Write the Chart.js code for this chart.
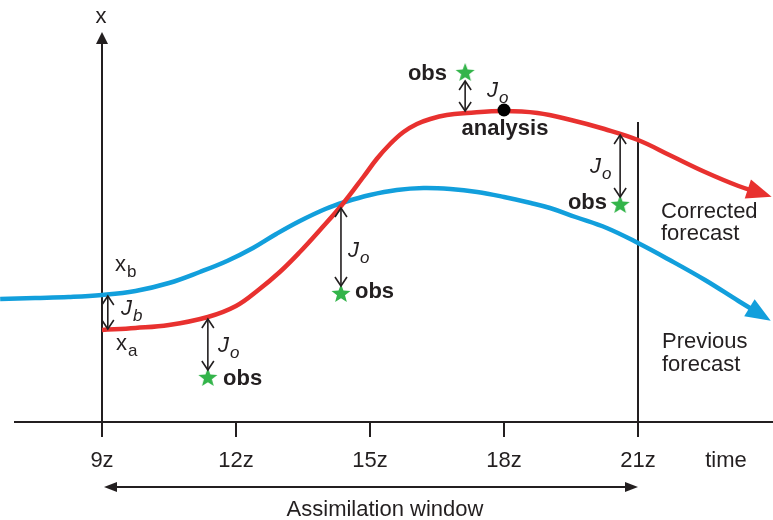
<!DOCTYPE html>
<html>
<head>
<meta charset="utf-8">
<script src="https://cdn.jsdelivr.net/npm/chart.js@4"></script>
<style>
  html, body { margin: 0; padding: 0; background: #fff; }
  #wrap { width: 773px; height: 520px; position: relative; }
</style>
</head>
<body>
<div id="wrap"><canvas id="chart"></canvas></div>
<script>
// time axis (hours, z) and state value (arbitrary units above the time axis)
const tickHours = [9, 12, 15, 18, 21];
const tickLabels = ["9z", "12z", "15z", "18z", "21z"];

// previous forecast (background), blue
const prevTimes  = [6.72, 7.5, 8.25, 9.0, 9.75, 10.5, 11.19, 11.8, 12.38, 12.9, 13.43, 14.0, 14.44, 15.0, 15.6, 16.2, 16.8, 17.4, 18.0, 18.6, 19.03, 19.6, 20.3, 21.0, 21.75, 22.5, 23.25, 23.8];
const prevValues = [123, 124, 125, 127, 131, 139, 150, 161, 174, 188, 201, 213, 220, 227, 232, 234, 233, 230, 225, 219, 214, 205, 194, 179, 161, 142, 121, 106];

// corrected forecast (analysis trajectory), red
const corrTimes  = [9.0, 9.75, 10.5, 11.37, 12.0, 12.5, 12.98, 13.43, 13.9, 14.37, 14.85, 15.15, 15.45, 15.75, 16.05, 16.35, 16.72, 17.17, 18.0, 18.75, 19.5, 20.25, 21.0, 21.75, 22.5, 23.25, 23.8];
const corrValues = [92, 94, 97, 105, 116, 132, 150, 170, 193, 217, 245, 263, 278, 290, 298, 303, 307, 309, 311, 309, 302, 293, 282, 266, 250, 236, 228];

// observations and the model value at the same time (J_o arrows)
const obsTimes   = [11.37, 14.35, 17.13, 20.6];
const obsValues  = [44, 128, 349, 217];
const modelAtObs = [105, 216, 309, 289];

const analysisTime = 18.0;
const analysisValue = 312;

// background term J_b at the start of the window
const jbTime = 9.13;
const xbValue = 127;
const xaValue = 92;

const windowStart = 9;
const windowEnd = 21;

const X_MIN = 6.7164, X_MAX = 24.0224;
const Y_MIN = -98, Y_MAX = 422;

const FONT = '"Liberation Sans", Arial, Helvetica, sans-serif';
const INK = "#231f20";
const RED = "#e8312f";
const BLUE = "#129fdc";
const GREEN = "#33b44a";

// text annotations in data coordinates
const subLabels = [
  { main: "x", sub: "b", h: 9.291, v: 151, italic: false },
  { main: "J", sub: "b", h: 9.425, v: 107, italic: true },
  { main: "x", sub: "a", h: 9.313, v: 72, italic: false },
  { main: "J", sub: "o", h: 11.597, v: 70, italic: true },
  { main: "J", sub: "o", h: 14.507, v: 165, italic: true },
  { main: "J", sub: "o", h: 17.619, v: 325, italic: true },
  { main: "J", sub: "o", h: 19.925, v: 249, italic: true },
];
const boldLabels = [
  { text: "obs", h: 11.709, v: 37, align: "left" },
  { text: "obs", h: 14.664, v: 124, align: "left" },
  { text: "obs", h: 16.724, v: 342, align: "right" },
  { text: "obs", h: 20.306, v: 213, align: "right" },
  { text: "analysis", h: 18.022, v: 287, align: "center" },
];
const plainLabels = [
  { text: "Corrected", h: 21.515, v: 204 },
  { text: "forecast", h: 21.515, v: 182 },
  { text: "Previous", h: 21.537, v: 74 },
  { text: "forecast", h: 21.537, v: 51 },
];

function toXY(times, values) {
  return times.map((t, i) => ({ x: t, y: values[i] }));
}

// filled five-point star used as the obs marker
function makeStar(r, color) {
  const c = document.createElement("canvas");
  c.width = c.height = 2 * r + 2;
  const g = c.getContext("2d");
  g.fillStyle = color;
  g.beginPath();
  for (let i = 0; i < 10; i++) {
    const rad = i % 2 === 0 ? r : r * 0.42;
    const a = -Math.PI / 2 + (i * Math.PI) / 5;
    const px = r + 1 + rad * Math.cos(a), py = r + 1 + rad * Math.sin(a);
    if (i === 0) g.moveTo(px, py); else g.lineTo(px, py);
  }
  g.closePath();
  g.fill();
  return c;
}

function seg(ctx, x1, y1, x2, y2) {
  ctx.beginPath();
  ctx.moveTo(x1, y1);
  ctx.lineTo(x2, y2);
  ctx.stroke();
}

// open chevron head at (x, y); dy = +1 points down, -1 points up
function chevron(ctx, x, y, dy) {
  ctx.beginPath();
  ctx.moveTo(x - 6, y - dy * 9);
  ctx.lineTo(x, y);
  ctx.lineTo(x + 6, y - dy * 9);
  ctx.stroke();
}

function doubleArrow(ctx, x, y1, y2) {
  ctx.save();
  ctx.lineWidth = 1.6;
  ctx.strokeStyle = INK;
  seg(ctx, x, y1, x, y2);
  const d = y2 > y1 ? 1 : -1;
  chevron(ctx, x, y2, d);
  chevron(ctx, x, y1, -d);
  ctx.restore();
}

function filledHead(ctx, tipX, tipY, dx, dy, len, half) {
  const bx = tipX - dx * len, by = tipY - dy * len;
  ctx.beginPath();
  ctx.moveTo(tipX, tipY);
  ctx.lineTo(bx - dy * half, by + dx * half);
  ctx.lineTo(bx + dy * half, by - dx * half);
  ctx.closePath();
  ctx.fill();
}

const diagram = {
  id: "diagram",
  beforeDatasetsDraw(chart) {
    const { ctx, scales: { x, y } } = chart;
    const px = (h) => x.getPixelForValue(h);
    const py = (v) => y.getPixelForValue(v);
    ctx.save();
    ctx.strokeStyle = INK;
    ctx.fillStyle = INK;
    ctx.lineWidth = 2;
    // time axis and tick marks
    seg(ctx, 14, py(0), chart.width, py(0));
    tickHours.forEach((h) => seg(ctx, px(h), py(0), px(h), py(-15)));
    // state axis at the start of the window
    seg(ctx, px(9), py(-15), px(9), py(380));
    filledHead(ctx, px(9), py(390), 0, -1, 12, 6);
    // end of window
    seg(ctx, px(21), py(-15), px(21), py(300));
    ctx.restore();
  },
  afterDatasetsDraw(chart) {
    const { ctx, scales: { x, y } } = chart;
    const px = (h) => x.getPixelForValue(h);
    const py = (v) => y.getPixelForValue(v);
    ctx.save();

    // arrow heads at the end of both forecasts
    [[2, RED], [3, BLUE]].forEach(([idx, col]) => {
      const pts = chart.getDatasetMeta(idx).data;
      const a = pts[pts.length - 2], b = pts[pts.length - 1];
      const len = Math.hypot(b.x - a.x, b.y - a.y);
      const dx = (b.x - a.x) / len, dy = (b.y - a.y) / len;
      ctx.fillStyle = col;
      filledHead(ctx, b.x + dx * 9, b.y + dy * 9, dx, dy, 25, 10);
    });

    // J_o arrows between model and obs
    obsTimes.forEach((t, i) => {
      const xx = px(t);
      const yModel = py(modelAtObs[i]);
      const yObs = py(obsValues[i]);
      const d = yObs > yModel ? 1 : -1;
      doubleArrow(ctx, xx, yModel + d * 2, yObs - d * 8);
    });
    // J_b arrow
    doubleArrow(ctx, px(jbTime), py(xbValue) + 1, py(xaValue) - 1);

    // tick labels and axis names
    ctx.fillStyle = INK;
    ctx.textBaseline = "alphabetic";
    ctx.font = "22px " + FONT;
    ctx.textAlign = "center";
    tickHours.forEach((h, i) => ctx.fillText(tickLabels[i], px(h), py(-45)));
    ctx.fillText("time", px(22.97), py(-45));
    ctx.fillText("x", px(8.98), py(399));

    // assimilation window
    ctx.lineWidth = 2;
    ctx.strokeStyle = INK;
    seg(ctx, px(windowStart) + 6, py(-65), px(windowEnd) - 6, py(-65));
    filledHead(ctx, px(windowStart) + 2, py(-65), -1, 0, 13, 5);
    filledHead(ctx, px(windowEnd), py(-65), 1, 0, 13, 5);
    ctx.fillText("Assimilation window", px(15.336), py(-94));

    // x_b, x_a, J_b, J_o
    ctx.textAlign = "left";
    subLabels.forEach((l) => {
      const style = l.italic ? "italic " : "";
      ctx.font = style + "22px " + FONT;
      const x0 = px(l.h), y0 = py(l.v);
      ctx.fillText(l.main, x0, y0);
      const w = ctx.measureText(l.main).width;
      ctx.font = style + "17px " + FONT;
      ctx.fillText(l.sub, x0 + w + 1, y0 + 6);
    });

    ctx.font = "bold 22px " + FONT;
    boldLabels.forEach((l) => {
      ctx.textAlign = l.align;
      ctx.fillText(l.text, px(l.h), py(l.v));
    });

    ctx.font = "22px " + FONT;
    ctx.textAlign = "left";
    plainLabels.forEach((l) => ctx.fillText(l.text, px(l.h), py(l.v)));

    ctx.restore();
  },
};

const ctx = document.getElementById("chart").getContext("2d");
const starImg = makeStar(10, GREEN);

new Chart(ctx, {
  type: "line",
  data: {
    datasets: [
      {
        label: "obs",
        data: toXY(obsTimes, obsValues),
        showLine: false,
        pointStyle: starImg,
        pointRadius: 10,
      },
      {
        label: "analysis",
        data: [{ x: analysisTime, y: analysisValue }],
        showLine: false,
        pointRadius: 6.5,
        pointBackgroundColor: "#000",
        pointBorderColor: "#000",
        pointBorderWidth: 0,
      },
      {
        label: "Corrected forecast",
        data: toXY(corrTimes, corrValues),
        borderColor: RED,
        borderWidth: 4.5,
        pointRadius: 0,
        tension: 0.4,
        fill: false,
      },
      {
        label: "Previous forecast",
        data: toXY(prevTimes, prevValues),
        borderColor: BLUE,
        borderWidth: 4.5,
        pointRadius: 0,
        tension: 0.4,
        fill: false,
      },
    ],
  },
  options: {
    responsive: true,
    maintainAspectRatio: false,
    animation: false,
    events: [],
    layout: { padding: 0, autoPadding: false },
    scales: {
      x: { type: "linear", min: X_MIN, max: X_MAX, display: false },
      y: { type: "linear", min: Y_MIN, max: Y_MAX, display: false },
    },
    plugins: {
      legend: { display: false },
      tooltip: { enabled: false },
    },
  },
  plugins: [diagram],
});
</script>
</body>
</html>
